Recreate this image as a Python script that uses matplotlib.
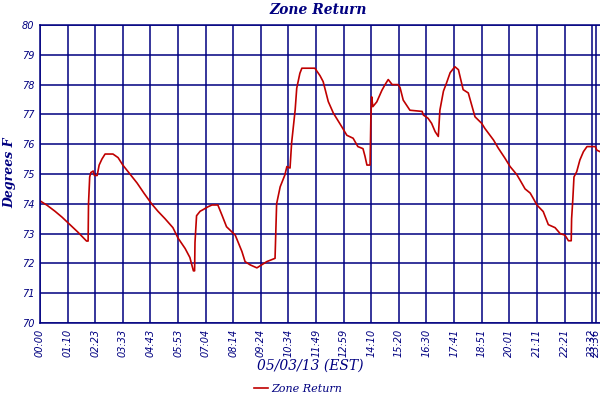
import numpy as np
import matplotlib
matplotlib.use("Agg")
import matplotlib.pyplot as plt

# sample index (roughly minutes since midnight, 70 per grid cell) and temperature
sample_idx = [0, 18, 38, 56, 76, 96, 118, 122, 123, 126, 129, 135, 138, 145, 150, 157,
              165, 185, 198, 210, 228, 246, 264, 283, 299, 317, 337, 350, 368, 380, 389,
              392, 393, 397, 406, 413, 426, 436, 451, 462, 473, 495, 512, 520, 533, 550,
              562, 575, 596, 600, 609, 621, 626, 634, 638, 647, 651, 659, 664, 697, 710,
              718, 731, 744, 765, 778, 794, 806, 819, 824, 829, 837, 839, 841, 844, 854,
              867, 875, 883, 893, 908, 913, 921, 930, 938, 969, 972, 984, 993, 1002, 1010,
              1014, 1023, 1031, 1040, 1052, 1061, 1073, 1086, 1095, 1103, 1120, 1128, 1150,
              1162, 1179, 1192, 1209, 1217, 1230, 1243, 1250, 1260, 1276, 1289, 1306, 1319,
              1331, 1340, 1347, 1348, 1351, 1354, 1361, 1369, 1378, 1387, 1408, 1412, 1420]
zone_return = [74.10, 73.95, 73.75, 73.55, 73.30, 73.05, 72.75, 72.75, 74.00, 74.90, 75.05,
               75.10, 74.95, 74.95, 75.30, 75.50, 75.67, 75.67, 75.55, 75.30, 75.00, 74.70,
               74.35, 74.00, 73.75, 73.50, 73.20, 72.85, 72.50, 72.20, 71.75, 71.75, 72.70,
               73.60, 73.75, 73.80, 73.90, 73.96, 73.96, 73.60, 73.23, 72.95, 72.40, 72.06,
               71.95, 71.85, 71.95, 72.06, 72.17, 74.00, 74.57, 74.97, 75.25, 75.20, 76.04,
               77.15, 77.88, 78.38, 78.55, 78.55, 78.30, 78.10, 77.43, 77.04, 76.59, 76.30,
               76.20, 75.92, 75.85, 75.60, 75.30, 75.30, 76.87, 77.59, 77.26, 77.42, 77.81,
               78.00, 78.17, 78.00, 78.00, 77.90, 77.48, 77.30, 77.14, 77.10, 76.98, 76.87,
               76.70, 76.42, 76.26, 77.14, 77.78, 78.06, 78.40, 78.60, 78.50, 77.83, 77.72,
               77.30, 76.92, 76.70, 76.53, 76.14, 75.87, 75.53, 75.25, 74.98, 74.80, 74.50,
               74.36, 74.20, 73.96, 73.74, 73.30, 73.20, 73.00, 72.95, 72.76, 72.76, 73.50,
               74.13, 74.90, 75.08, 75.47, 75.75, 75.92, 75.92, 75.80, 75.75]

tick_pos = [0, 70, 140, 210, 280, 350, 420, 490, 560, 630, 700, 770, 840, 910, 980,
            1050, 1120, 1190, 1260, 1330, 1400, 1410]
tick_labels = ["00:00", "01:10", "02:23", "03:33", "04:43", "05:53", "07:04", "08:14",
               "09:24", "10:34", "11:49", "12:59", "14:10", "15:20", "16:30", "17:41",
               "18:51", "20:01", "21:11", "22:21", "23:32", "23:36"]

navy = "#000080"
red = "#c00000"
serif = "DejaVu Serif"

fig = plt.figure(figsize=(6, 4), dpi=100)
ax = fig.add_axes([40 / 600, 1 - 323 / 400, 1 - 40 / 600, (323 - 25) / 400])

ax.plot(sample_idx, zone_return, color=red, lw=1.2, label="Zone Return")

ax.set_xlim(0, 1420)
ax.set_ylim(70, 80)
ax.set_yticks(np.arange(70, 81, 1))
ax.set_xticks(tick_pos)
ax.set_xticklabels(tick_labels, rotation=90, fontsize=7, style="italic", color=navy)
ax.set_yticklabels([str(v) for v in range(70, 81)], fontsize=7, style="italic", color=navy)
ax.tick_params(length=0, pad=4)

ax.grid(True, color=navy, lw=1.1)
ax.set_axisbelow(True)
for s in ax.spines.values():
    s.set_color(navy)
    s.set_linewidth(1.1)
ax.spines["right"].set_visible(False)

fig.text(318 / 600, 1 - 10 / 400, "Zone Return", ha="center", va="center",
         fontsize=10, fontweight="bold", style="italic", family=serif, color=navy)
fig.text(10 / 600, 1 - 173 / 400, "Degrees F", ha="center", va="center", rotation=90,
         fontsize=9, fontweight="bold", style="italic", family=serif, color=navy)
fig.text(310 / 600, 1 - 366 / 400, "05/03/13 (EST)", ha="center", va="center",
         fontsize=10, style="italic", family=serif, color=navy)

leg = fig.legend(loc="center", bbox_to_anchor=(298 / 600, 1 - 389 / 400), frameon=False,
                 handlelength=1.2, handletextpad=0.3,
                 prop={"family": serif, "style": "italic", "size": 8})
for t in leg.get_texts():
    t.set_color(navy)

fig.savefig("out.png", dpi=100)
